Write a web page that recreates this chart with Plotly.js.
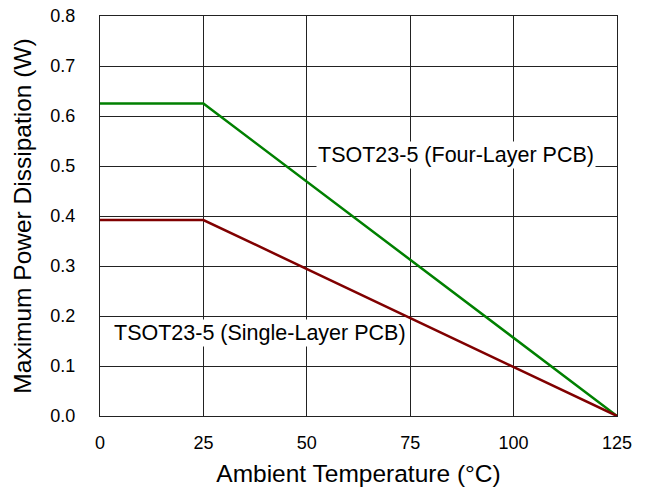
<!DOCTYPE html>
<html>
<head>
<meta charset="utf-8">
<script src="https://cdn.plot.ly/plotly-3.0.1.min.js"></script>
<style>html,body{margin:0;padding:0;background:#fff;}#chart{width:650px;height:493px;}</style>
</head>
<body>
<div id="chart"></div>
<script>
const temperature = [0, 25, 125];
const fourLayer = [0.625, 0.625, 0];
const singleLayer = [0.392, 0.392, 0];
const xTicks = [0, 25, 50, 75, 100, 125];
const yTicks = [0, 0.1, 0.2, 0.3, 0.4, 0.5, 0.6, 0.7, 0.8];
const yTickLabels = ['0.0','0.1','0.2','0.3','0.4','0.5','0.6','0.7','0.8'];
const labelFour = 'TSOT23-5 (Four-Layer PCB)';
const labelSingle = 'TSOT23-5 (Single-Layer PCB)';

const font = 'Arial, "Liberation Sans", sans-serif';

const traces = [
  {x: temperature, y: fourLayer, mode: 'lines', line: {color: '#008000', width: 2.5}, name: labelFour, cliponaxis: false},
  {x: temperature, y: singleLayer, mode: 'lines', line: {color: '#800000', width: 2.5}, name: labelSingle, cliponaxis: false}
];

const layout = {
  width: 650, height: 493,
  margin: {l: 100, r: 33, t: 16, b: 77},
  paper_bgcolor: '#fff', plot_bgcolor: '#fff',
  showlegend: false,
  font: {family: font, color: '#000'},
  xaxis: {
    range: [0, 125], tickvals: xTicks, ticktext: xTicks.map(String),
    showgrid: true, gridcolor: '#222', gridwidth: 1,
    showline: true, linecolor: '#222', linewidth: 1, mirror: true,
    zeroline: false, ticks: '', ticklabelstandoff: 10,
    tickfont: {family: font, size: 18, color: '#000'},
    title: {text: 'Ambient Temperature (°C)', font: {family: font, size: 24.5, color: '#000'}, standoff: 13}
  },
  yaxis: {
    range: [0, 0.8], tickvals: yTicks, ticktext: yTickLabels,
    showgrid: true, gridcolor: '#222', gridwidth: 1,
    showline: true, linecolor: '#222', linewidth: 1, mirror: true,
    zeroline: false, ticks: '', ticklabelstandoff: 20,
    tickfont: {family: font, size: 18, color: '#000'},
    title: {text: 'Maximum Power Dissipation (W)', font: {family: font, size: 24.5, color: '#000'}, standoff: 11}
  },
  annotations: [
    {x: 86.1, y: 0.522, xref: 'x', yref: 'y', text: labelFour, showarrow: false,
     bgcolor: '#fff', borderpad: 1, font: {family: font, size: 21.5, color: '#000'}},
    {x: 38.7, y: 0.167, xref: 'x', yref: 'y', text: labelSingle, showarrow: false,
     bgcolor: '#fff', borderpad: 1, font: {family: font, size: 21.5, color: '#000'}}
  ]
};

Plotly.newPlot('chart', traces, layout, {displayModeBar: false, staticPlot: true});
</script>
</body>
</html>
